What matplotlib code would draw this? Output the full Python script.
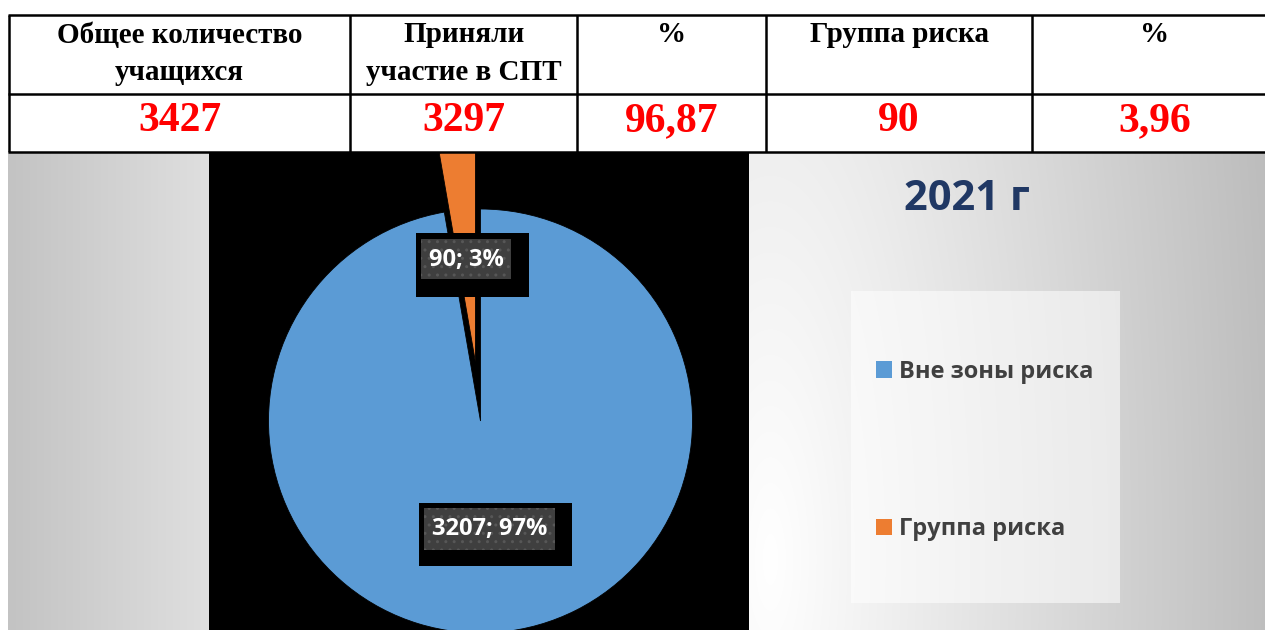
"""
Круговая диаграмма СПТ 2021 г с таблицей сверху
"""
import matplotlib.pyplot as plt
import numpy as np
from matplotlib.patches import Rectangle

# Таблица
headers = [['Общее количество', 'учащихся'], ['Приняли', 'участие в СПТ'],
           ['%'], ['Группа риска'], ['%']]
values = ['3427', '3297', '96,87', '90', '3,96']

# Диаграмма
categories = ['Вне зоны риска', 'Группа риска']
counts = [3207, 90]
percents = ['97%', '3%']
colors = ['#5B9BD5', '#ED7D31']
title = '2021 г'

W, H = 1265, 630
fig = plt.figure(figsize=(W / 100, H / 100), dpi=100)
fig.patch.set_facecolor('white')

# Фон (градиенты)
bg = fig.add_axes([0, 0, 1, 1], zorder=-1)
bg.set_xlim(0, W)
bg.set_ylim(H, 0)
bg.axis('off')

left = (195 + 28 * np.linspace(0, 1, 200)) / 255
left_img = np.repeat(np.tile(left, (2, 1))[..., None], 3, axis=2)
bg.imshow(left_img, extent=(8, 209, 630, 153), aspect='auto', interpolation='bilinear')

gx, gy = np.meshgrid(np.arange(749, 1266), np.arange(153, 631))
d = np.hypot(gx - 770, (gy - 560) * 0.3)
g = np.clip(255 - 0.13 * d, 0, 255) / 255
bg.imshow(np.repeat(g[..., None], 3, axis=2), extent=(749, 1265, 630, 153),
          aspect='auto', interpolation='bilinear')

# Круговая диаграмма
R = 212.0
cx, cy = 480.5, 421.0
ax = fig.add_axes([209 / W, 0, 540 / W, (H - 153) / H])
ax.set_facecolor('black')
wedges, _ = ax.pie(counts, colors=colors, startangle=90, counterclock=False,
                   explode=[0, 0.28], radius=1, frame=True,
                   wedgeprops=dict(edgecolor='black', linewidth=0.6))
for w in wedges:
    w.set_clip_on(True)
ax.set_xlim((209 - cx) / R, (749 - cx) / R)
ax.set_ylim(-(630 - cy) / R, (cy - 153) / R)
ax.set_aspect('auto')
ax.set_xticks([])
ax.set_yticks([])
for s in ax.spines.values():
    s.set_visible(False)

# Верхний слой: таблица, подписи, легенда
ov = fig.add_axes([0, 0, 1, 1], zorder=3)
ov.set_xlim(0, W)
ov.set_ylim(H, 0)
ov.axis('off')

col_x = [9, 350, 577, 766, 1032, 1278]
for y in [15, 94, 152]:
    ov.plot([8, W], [y, y], color='black', lw=1.8, solid_capstyle='butt')
for x in col_x[:-1]:
    ov.plot([x, x], [15, 152], color='black', lw=1.8, solid_capstyle='butt')

serif = 'Liberation Serif'
for i, (hdr, val) in enumerate(zip(headers, values)):
    xc = (col_x[i] + col_x[i + 1]) / 2
    for j, line in enumerate(hdr):
        ov.text(xc, 35 + 37 * j, line, ha='center', va='center', family=serif,
                weight='bold', fontsize=21, color='black')
    ov.text(xc, 121, val, ha='center', va='center', family=serif,
            weight='bold', fontsize=30, color='#FF0000')

# Подписи данных: (индекс сектора, внешний прямоугольник, внутренний, центр текста)
sans = 'Open Sans'
label_boxes = [
    (1, (416, 233, 529, 297), (421, 239, 511, 279), (466, 260)),
    (0, (419, 503, 572, 566), (424, 508, 555, 550), (490, 529)),
]
for k, outer, inner, (tx, ty) in label_boxes:
    ov.add_patch(Rectangle((outer[0], outer[1]), outer[2] - outer[0], outer[3] - outer[1],
                           facecolor='black', edgecolor='none'))
    ov.add_patch(Rectangle((inner[0], inner[1]), inner[2] - inner[0], inner[3] - inner[1],
                           facecolor='#3F3F3F', edgecolor='#575757', linewidth=0, hatch='..'))
    ov.text(tx, ty, f'{counts[k]}; {percents[k]}', ha='center', va='center',
            family=sans, weight='bold', fontsize=17, color='white')

# Заголовок
ov.text(967, 200, title, ha='center', va='center', family=sans, weight='bold',
        fontsize=30, color='#203864')

# Легенда
ov.add_patch(Rectangle((851, 291), 269, 312, facecolor='white', alpha=0.55, edgecolor='none'))
proxies = [Rectangle((0, 0), 1, 1, facecolor=c, edgecolor='none') for c in colors]
ov.legend(proxies, categories, loc='upper left', bbox_to_anchor=(864, 348),
          bbox_transform=ov.transData, frameon=False,
          prop=dict(family=sans, weight='bold', size=17), labelcolor='#404040',
          labelspacing=5.65, handlelength=0.7, handleheight=0.7, handletextpad=0.3,
          borderpad=0)

fig.savefig('out.png', dpi=100)
